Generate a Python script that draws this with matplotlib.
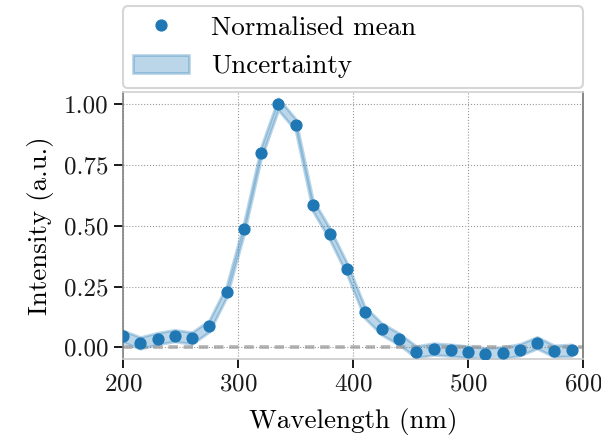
import matplotlib
matplotlib.use("Agg")
import matplotlib.pyplot as plt
import numpy as np

plt.rcParams.update({
    "font.family": "serif",
    "font.serif": ["cmr10"],
    "mathtext.fontset": "cm",
    "axes.formatter.use_mathtext": True,
    "axes.unicode_minus": False,
})

wavelength = [200, 215, 230, 245, 260, 275, 290, 305, 320, 335, 350, 365, 380, 395,
              410, 425, 440, 455, 470, 485, 500, 515, 530, 545, 560, 575, 590]
intensity = [0.045, 0.018, 0.036, 0.048, 0.038, 0.088, 0.229, 0.487, 0.800, 1.000,
             0.916, 0.584, 0.464, 0.320, 0.145, 0.075, 0.034, -0.019, -0.007, -0.012,
             -0.019, -0.026, -0.023, -0.010, 0.019, -0.016, -0.012]
uncertainty = [0.024, 0.024, 0.024, 0.024, 0.024, 0.024, 0.024, 0.024, 0.024, 0.024,
               0.024, 0.024, 0.024, 0.024, 0.024, 0.024, 0.024, 0.024, 0.024, 0.024,
               0.024, 0.024, 0.024, 0.024, 0.024, 0.024, 0.024]

x = np.array(wavelength)
y = np.array(intensity)
u = np.array(uncertainty)

fig = plt.figure(figsize=(6.01, 4.38), dpi=100)
ax = fig.add_axes([0.2047, 0.1804, 0.7654, 0.6096])

band = ax.fill_between(x, y - u, y + u, facecolor=(0.12, 0.47, 0.71, 0.3),
                       edgecolor=(0.12, 0.47, 0.71, 0.3), lw=2, zorder=2,
                       label="Uncertainty")
ax.axhline(0, color="0.6", ls=(0, (2.6, 1.6)), lw=2.6, alpha=0.75, zorder=2.5)
pts, = ax.plot(x, y, "o", color="#1f77b4", ms=7.8, zorder=3, label="Normalised mean")

ax.set_xlim(200, 600)
ax.set_ylim(-0.048, 1.05)
ax.set_xticks([200, 300, 400, 500, 600])
ax.set_yticks([0, 0.25, 0.5, 0.75, 1.0])
ax.set_yticklabels(["0.00", "0.25", "0.50", "0.75", "1.00"])
ax.grid(True, ls=":", color="0.6", lw=0.8)
ax.tick_params(labelsize=18, length=6.5, width=1.4, direction="out", colors="0.1", pad=4)
ax.spines["left"].set_color("0.5")
ax.spines["right"].set_color("0.45")
ax.spines["top"].set_color("0.82")
ax.spines["bottom"].set_color("0.8")
for s in ax.spines.values():
    s.set_linewidth(1.2)

ax.set_xlabel("Wavelength (nm)", fontsize=19.5, labelpad=9)
ax.set_ylabel("Intensity (a.u.)", fontsize=19.5, labelpad=7)

leg = ax.legend(handles=[pts, band], loc="lower left", bbox_to_anchor=(0, 1.015, 1, 0.3),
                mode="expand", borderaxespad=0, fontsize=19.5, frameon=True,
                fancybox=True, handlelength=2.1, handletextpad=0.8,
                borderpad=0.35, labelspacing=0.54)
leg.get_frame().set_edgecolor("0.8")
leg.get_frame().set_linewidth(1.5)

fig.savefig("out.png", dpi=100)
